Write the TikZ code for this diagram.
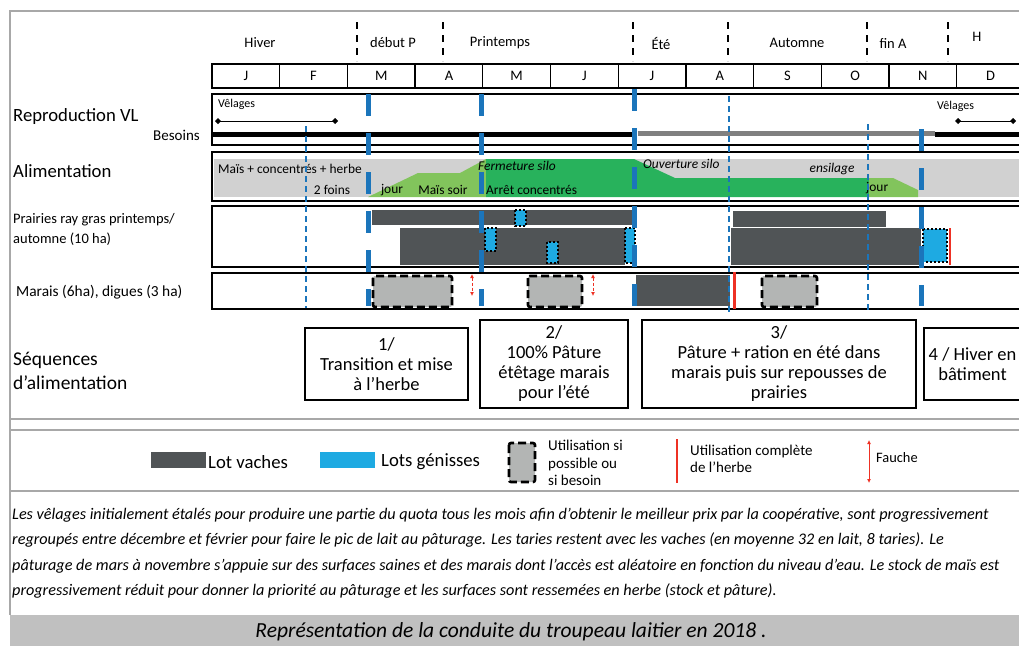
\documentclass[tikz,border=0pt]{standalone}
\usepackage{fontspec}
\setmainfont{Carlito}
\usetikzlibrary{arrows.meta}

\definecolor{bleuSaison}{HTML}{1B75BB}
\definecolor{grisLot}{HTML}{505456}
\definecolor{cyanGen}{HTML}{1EAAE2}
\definecolor{grisFond}{HTML}{D1D1D1}
\definecolor{grisPoss}{HTML}{B3B5B4}
\definecolor{vertClair}{HTML}{82C45C}
\definecolor{vertFonce}{HTML}{28B25C}
\definecolor{rougeU}{HTML}{EE3124}
\definecolor{grisCadre}{HTML}{A8A8A8}
\definecolor{grisBande}{HTML}{C0C0C0}
\definecolor{grisBesoin}{HTML}{808080}

\begin{document}
\begin{tikzpicture}[x=1pt, y=-1pt,
    every node/.style={inner sep=0pt},
    ligne/.style={draw=black, line width=1.3pt},
    cadre/.style={draw=grisCadre, line width=1.3pt},
    lot/.style={fill=grisLot},
    gen/.style={fill=cyanGen, draw=black, line width=2pt, dash pattern=on 2pt off 2pt},
    possible/.style={fill=grisPoss, draw=black, line width=2.6pt, dash pattern=on 8pt off 4pt, rounded corners=2pt},
    saison/.style={draw=bleuSaison, line width=5pt, dash pattern=on 22pt off 17pt},
    repere/.style={draw=bleuSaison, line width=1.1pt, dash pattern=on 6pt off 4pt},
    sep/.style={draw=black, line width=1.6pt, dash pattern=on 7pt off 6pt},
    fauche/.style={draw=rougeU, line width=1pt, {Latex[length=4pt,width=4pt]}-{Latex[length=4pt,width=4pt]}},
    velage/.style={line width=1pt, {Diamond[length=6pt,width=6pt]}-{Diamond[length=6pt,width=6pt]}},
    titre/.style={anchor=west, font=\fontsize{18.7}{21}\selectfont},
    moyen/.style={font=\fontsize{14.5}{19}\selectfont},
    petit/.style={font=\fontsize{13.4}{17}\selectfont},
    leg/.style={anchor=west, align=left, font=\fontsize{15}{17.5}\selectfont},
    seq/.style={draw=black, line width=1.1pt, align=center, font=\fontsize{18.5}{20}\selectfont},
    legende/.style={anchor=west, font=\fontsize{16.2}{25}\selectfont\itshape},
  ]
  \useasboundingbox (0,0) rectangle (1019,646);
  \clip (0,0) rectangle (1019,646);

  % cadre general
  \fill[grisBande] (10,615) rectangle (1019,646);
  \draw[cadre] (1019,11) -- (10,11) -- (10,615);
  \draw[cadre] (10,419) -- (1019,419);
  \draw[cadre] (10,430) -- (1019,430);
  \draw[cadre] (10,491) -- (1019,491);

  % saisons et mois
  \foreach \x/\s/\n in {260/Hiver/hiv, 393/début P/deb, 500/Printemps/pri, 661/Été/ete,
                        797/Automne/aut, 893/fin A/fin}
    \node[moyen] (s\n) at (\x,43) {\s};
  \node[moyen] (sH) at (977,37) {H};
  \foreach \x in {357,443,633,728,867,948}
    \draw[sep] (\x,22) -- (\x,61);
  \foreach \m [count=\i from 0] in {J,F,M,A,M,J,J,A,S,O,N,D} {
    \draw[ligne] ({212+67.7*\i},64) rectangle ({212+67.7*(\i+1)},88);
    \node[moyen] (mois\i) at ({212+67.7*(\i+0.5)},76) {\m};
  }

  % lignes du calendrier
  \draw[ligne] (212,94) rectangle (1030,145);
  \draw[ligne] (212,152) rectangle (1030,201);
  \draw[ligne] (212,206) rectangle (1030,267);
  \draw[ligne] (212,273) rectangle (1030,309);

  \node[titre] (repro) at (13,117) {Reproduction VL};
  \node[moyen, anchor=east, font=\fontsize{15}{17}\selectfont] (besoins) at (200,135) {Besoins};
  \node[titre] (alim) at (13,171) {Alimentation};
  \node[moyen, anchor=west] (prai1) at (13,220) {Prairies ray gras printemps/};
  \node[moyen, anchor=west] (prai2) at (13,239) {automne (10 ha)};
  \node[moyen, anchor=west, font=\fontsize{15.4}{17}\selectfont] (marais) at (16,292) {Marais (6ha), digues (3 ha)};
  \node[titre, font=\fontsize{19.5}{21}\selectfont] (seq1) at (13,360) {Séquences};
  \node[titre, font=\fontsize{19.5}{21}\selectfont] (seq2) at (13,383) {d’alimentation};

  % reproduction
  \node[font=\fontsize{12}{14}\selectfont, anchor=west] (vel1) at (218,104) {Vêlages};
  \coordinate (vel1a) at (215,121);
  \coordinate (vel1b) at (338,121);
  \draw[velage] (vel1a) -- (vel1b);
  \node[font=\fontsize{12}{14}\selectfont, anchor=west] (vel2) at (937,106) {Vêlages};
  \coordinate (vel2a) at (955,121);
  \coordinate (vel2b) at (1016,121);
  \draw[velage] (vel2a) -- (vel2b);
  \draw[line width=5pt] (212,134) -- (634,134);
  \draw[grisBesoin, line width=5pt] (638,133) -- (935,133);
  \draw[line width=5pt] (935,134) -- (1030,134);

  % alimentation
  \fill[grisFond] (214,159) rectangle (1030,197);
  \fill[vertClair] (368,197) -- (418,173) -- (460,173) -- (486,159) -- (486,197) -- cycle;
  \fill[vertFonce] (486,159) -- (634,159) -- (675,178) -- (869,178) -- (869,197) -- (486,197) -- cycle;
  \fill[vertClair] (869,178) -- (893,178) -- (918,190) -- (918,197) -- (869,197) -- cycle;
  \node[petit, anchor=west] (a1) at (218,169) {Maïs + concentrés + herbe};
  \node[petit] (a2) at (332,190) {2 foins};
  \node[petit] (a3) at (392,190) {jour};
  \node[petit] (a4) at (443,190) {Maïs soir};
  \node[petit, anchor=west, font=\fontsize{13.4}{17}\selectfont\itshape] (a5) at (478,166) {Fermeture silo};
  \node[petit, anchor=west] (a6) at (486,190) {Arrêt concentrés};
  \node[petit, anchor=west, font=\fontsize{13.4}{17}\selectfont\itshape] (a7) at (643,164) {Ouverture silo};
  \node[petit, font=\fontsize{13.4}{17}\selectfont\itshape] (a8) at (832,169) {ensilage};
  \node[petit, anchor=west] (a9) at (866,188) {jour};

  % prairies
  \fill[lot] (372,210) rectangle (632,225);
  \fill[lot] (400,228) rectangle (625,265);
  \fill[lot] (733,211) rectangle (886,227);
  \fill[lot] (731,228) rectangle (921,265);
  \draw[gen] (515,210) rectangle (526,226);
  \draw[gen] (485,228) rectangle (496,251);
  \draw[gen] (547,242) rectangle (558,263);
  \draw[gen] (625,228) rectangle (635,263);
  \draw[gen] (923,229) rectangle (947,262);
  \draw[rougeU, line width=2pt] (950,228) -- (950,265);

  % marais
  \draw[possible] (373,276) rectangle (452,307);
  \draw[possible] (528,276) rectangle (582,307);
  \draw[possible] (762,276) rectangle (817,307);
  \fill[lot] (636,275) rectangle (730,306);
  \draw[rougeU, line width=3pt] (734,272) -- (734,309);
  \foreach \x in {472,593}
    \draw[fauche, dash pattern=on 3pt off 2pt] (\x,274) -- (\x,296);

  % reperes
  \draw[repere] (306,126) -- (306,308);
  \draw[repere] (729,96) -- (729,312);
  \draw[repere] (868,124) -- (868,312);
  \foreach \x/\y in {368/94, 481/94, 634/89, 921/129}
    \draw[saison] (\x,\y) -- (\x,306);

  % sequences
  \node[seq, minimum width=163pt, minimum height=72pt] (q1) at (386.5,364)
    {1/\\Transition et mise\\à l’herbe};
  \node[seq, minimum width=148pt, minimum height=88pt] (q2) at (554,364)
    {2/\\100\% Pâture\\étêtage marais\\pour l’été};
  \node[seq, minimum width=274pt, minimum height=88pt] (q3) at (779,364)
    {3/\\Pâture + ration en été dans\\marais puis sur repousses de\\prairies};
  \node[seq, minimum width=97pt, minimum height=72pt] (q4) at (972.5,364)
    {4 / Hiver en\\bâtiment};

  % legende
  \fill[lot] (151,452) rectangle (206,468);
  \node[titre] (lVaches) at (208,462) {Lot vaches};
  \fill[cyanGen] (320,452) rectangle (375,468);
  \node[titre] (lGen) at (381,462) {Lots génisses};
  \draw[possible] (509,443) rectangle (535,482);
  \node[leg] (lPoss) at (548,463) {Utilisation si\\possible ou\\si besoin};
  \coordinate (lRougeA) at (677,439);
  \coordinate (lRougeB) at (677,483);
  \draw[rougeU, line width=2.5pt] (lRougeA) -- (lRougeB);
  \node[leg] (lComp) at (690,459) {Utilisation complète\\de l’herbe};
  \coordinate (lFaA) at (869,440);
  \coordinate (lFaB) at (869,483);
  \draw[fauche] (lFaA) -- (lFaB);
  \node[leg, font=\fontsize{14.4}{17}\selectfont] (lFauche) at (876,458) {Fauche};

  % texte
  \node[legende] (t1) at (12,515) {Les vêlages initialement étalés pour produire une partie du quota tous les mois afin d’obtenir le meilleur prix par la coopérative, sont progressivement};
  \node[legende] (t2) at (12,540) {regroupés entre décembre et février pour faire le pic de lait au pâturage. Les taries restent avec les vaches (en moyenne 32 en lait, 8 taries). Le};
  \node[legende] (t3) at (12,566) {pâturage de mars à novembre s’appuie sur des surfaces saines et des marais dont l’accès est aléatoire en fonction du niveau d’eau. Le stock de maïs est};
  \node[legende] (t4) at (12,591) {progressivement réduit pour donner la priorité au pâturage et les surfaces sont ressemées en herbe (stock et pâture).};
  \node[font=\fontsize{21.5}{24}\selectfont\itshape] (titreFig) at (511,632) {Représentation de la conduite du troupeau laitier en 2018 .};
\end{tikzpicture}
\end{document}
